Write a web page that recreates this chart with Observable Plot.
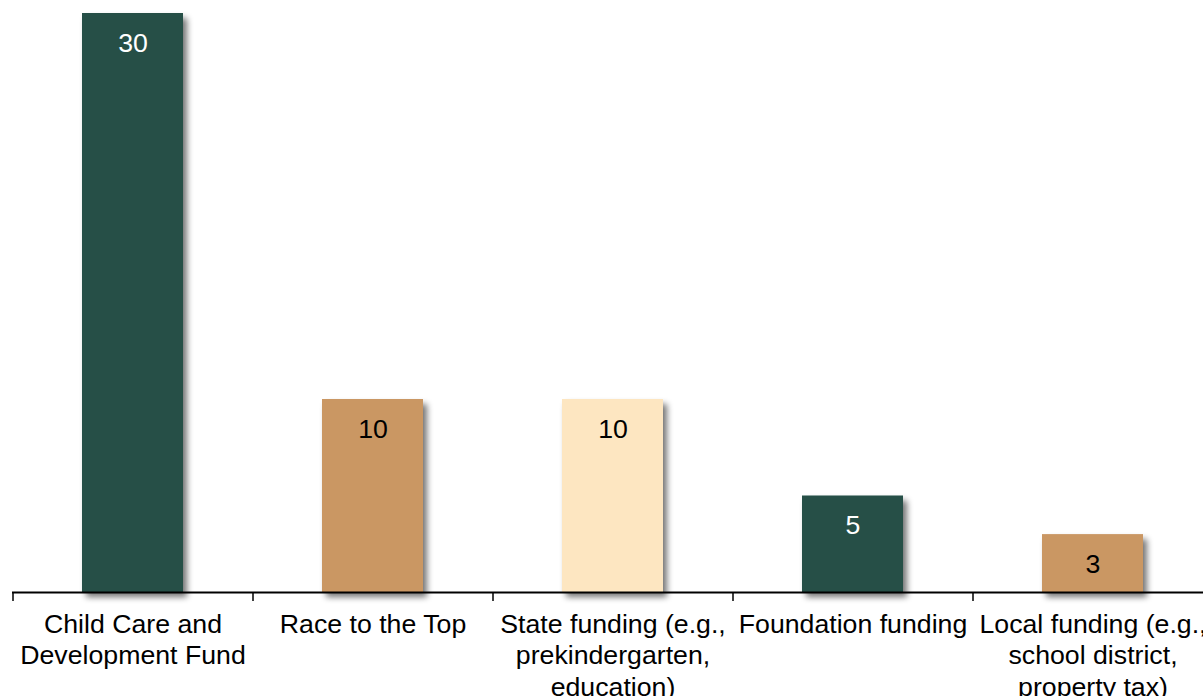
<!DOCTYPE html>
<html>
<head>
<meta charset="utf-8">
<script src="https://cdn.jsdelivr.net/npm/d3@7"></script>
<script src="https://cdn.jsdelivr.net/npm/@observablehq/plot@0.6"></script>
<style>
  html, body { margin: 0; padding: 0; background: #fff; overflow: hidden; }
  #chart svg { display: block; overflow: hidden; }
</style>
</head>
<body>
<div id="chart"></div>
<script>
const categories = [
  "Child Care and\nDevelopment Fund",
  "Race to the Top",
  "State funding (e.g.,\nprekindergarten,\neducation)",
  "Foundation funding",
  "Local funding (e.g.,\nschool district,\nproperty tax)"
];
const values = [30, 10, 10, 5, 3];
const fills = ["#275047", "#CA9764", "#FDE6C1", "#275047", "#CA9764"];
const labelColors = ["#ffffff", "#000000", "#000000", "#ffffff", "#000000"];

const data = categories.map((c, i) => ({cat: c, value: values[i], fill: fills[i], lc: labelColors[i]}));

const FONT = "Arial, 'Liberation Sans', sans-serif";

const plot = Plot.plot({
  width: 1203,
  height: 696,
  marginTop: 13,
  marginBottom: 104,
  marginLeft: 12,
  marginRight: -9,
  style: {fontFamily: FONT, background: "#fff", overflow: "hidden"},
  x: {domain: categories, paddingInner: 0.58, paddingOuter: 0.29, axis: null},
  y: {domain: [0, 30], axis: null},
  marks: [
    Plot.barY(data, {x: "cat", y: "value", fill: "fill", className: "bars"}),
    Plot.ruleY([0], {stroke: "#000", strokeWidth: 2.2}),
    Plot.ruleX(data, {x: "cat", y1: 0, y2: 0, dx: -120, insetBottom: -9, stroke: "#000", strokeWidth: 1.5}),
    Plot.text(data, {x: "cat", y: "value", text: d => String(d.value), fill: "lc", dy: 29.5, lineAnchor: "middle", fontSize: 26.7, fontFamily: FONT}),
    Plot.text(data, {x: "cat", y: 0, text: "cat", fill: "#000", dy: 18, lineAnchor: "top", lineHeight: 1.18, fontSize: 26.7, fontFamily: FONT})
  ]
});

// drop shadow for bars
const ns = "http://www.w3.org/2000/svg";
const defs = document.createElementNS(ns, "defs");
defs.innerHTML = `<filter id="barShadow" x="-20%" y="-20%" width="150%" height="150%">
  <feGaussianBlur in="SourceAlpha" stdDeviation="3"/>
  <feOffset dx="4" dy="5" result="off"/>
  <feComponentTransfer><feFuncA type="linear" slope="0.55"/></feComponentTransfer>
  <feMerge><feMergeNode/><feMergeNode in="SourceGraphic"/></feMerge>
</filter>`;
plot.insertBefore(defs, plot.firstChild);
plot.querySelectorAll("g.bars rect, .bars rect").forEach(r => r.setAttribute("filter", "url(#barShadow)"));

document.getElementById("chart").appendChild(plot);
</script>
</body>
</html>
